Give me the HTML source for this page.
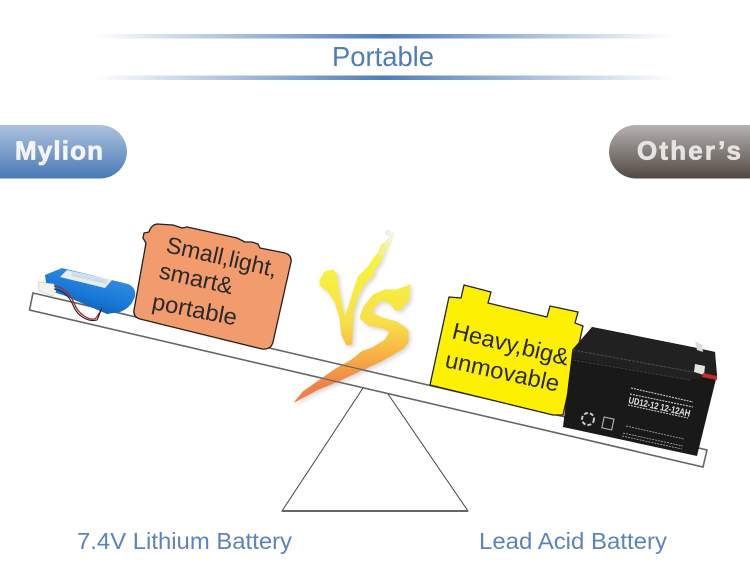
<!DOCTYPE html>
<html><head><meta charset="utf-8"><style>
html,body{margin:0;padding:0;background:#fff}
svg{display:block}
text{font-family:"Liberation Sans",sans-serif}
</style></head><body>
<svg width="750" height="561" viewBox="0 0 750 561" xmlns="http://www.w3.org/2000/svg">
<defs>
<linearGradient id="ln"><stop offset="0" stop-color="#4f7db8" stop-opacity="0"/><stop offset=".5" stop-color="#4f7db8"/><stop offset="1" stop-color="#4f7db8" stop-opacity="0"/></linearGradient>
<linearGradient id="pb" x1="0" y1="0" x2="0" y2="1"><stop offset="0" stop-color="#adc3de"/><stop offset="1" stop-color="#4a78b8"/></linearGradient>
<linearGradient id="pg" x1="0" y1="0" x2="0" y2="1"><stop offset="0" stop-color="#b5b2af"/><stop offset="1" stop-color="#524843"/></linearGradient>
<linearGradient id="vs" gradientUnits="userSpaceOnUse" x1="0" y1="270" x2="0" y2="385"><stop offset="0" stop-color="#f6f23e"/><stop offset=".45" stop-color="#f8e048"/><stop offset=".75" stop-color="#f7b044"/><stop offset="1" stop-color="#f08048"/></linearGradient>
<linearGradient id="vt" gradientUnits="userSpaceOnUse" x1="0" y1="232" x2="0" y2="268"><stop offset="0" stop-color="#f2f2ee"/><stop offset="1" stop-color="#f3f040"/></linearGradient>
<linearGradient id="bb" gradientUnits="userSpaceOnUse" x1="95" y1="275" x2="85" y2="312"><stop offset="0" stop-color="#2f8be0"/><stop offset=".55" stop-color="#1878d8"/><stop offset="1" stop-color="#1260b0"/></linearGradient>
<filter id="sh" x="-20%" y="-20%" width="140%" height="140%"><feDropShadow dx="2" dy="2" stdDeviation="2" flood-color="#888" flood-opacity=".35"/></filter>
</defs>

<rect x="95" y="34" width="578" height="4.500" fill="url(#ln)"/>
<rect x="95" y="75.500" width="578" height="4.500" fill="url(#ln)"/>
<text x="383" y="66" text-anchor="middle" font-size="27.500" fill="#4f7db8" textLength="102" lengthAdjust="spacingAndGlyphs">Portable</text>

<path d="M0 125H100A27 27 0 0 1 127 152A27 27 0 0 1 100 178.500H0Z" fill="url(#pb)"/>
<path d="M750 125H636A27 27 0 0 0 609 152A27 27 0 0 0 636 178.500H750Z" fill="url(#pg)"/>
<text x="15" y="159.500" font-size="26" font-weight="bold" fill="#f4f6fa" stroke="#f4f6fa" stroke-width=".7" textLength="88" lengthAdjust="spacing">Mylion</text>
<text x="637" y="159.500" font-size="26" font-weight="bold" fill="#e6e4e2" stroke="#e6e4e2" stroke-width=".7" textLength="104" lengthAdjust="spacing">Other’s</text>

<path d="M33 293L707 450L703 467L29.500 310Z" fill="#fff" stroke="#666" stroke-width="1.600"/>
<path d="M363 388L282 511H468L388 394" fill="none" stroke="#444" stroke-width="1"/>
<path d="M282 511H468" stroke="#666" stroke-width="2"/>

<path d="M143 238L144 233L149 232Q151 225 157 224L173 225L182 228L187 227L210 232L237 238L245 242L252 242L258 244L260 248L285 253Q292 255 291 262L273 342Q271 350 262 349L140 319Q133 317 134 310L146 243Z" fill="#f29b6c" stroke="#222" stroke-width="1.300" stroke-linejoin="round"/>
<g fill="#2a2a2a" font-size="23.200">
<text transform="translate(165 252) rotate(12.800)" textLength="113" lengthAdjust="spacingAndGlyphs">Small,light,</text>
<text transform="translate(158 278) rotate(12.500)" textLength="75" lengthAdjust="spacingAndGlyphs">smart&amp;</text>
<text transform="translate(151 309) rotate(11)" textLength="86" lengthAdjust="spacingAndGlyphs">portable</text>
</g>

<path d="M45 275L62 268L128 284C133 286 136 290 135 296C133 303 128 309 120 312L107 314L63 295L47 290Z" fill="url(#bb)"/>
<path d="M67 270L112 280L105 288L60 277Z" fill="#e6edf4"/>
<path d="M73 272L108 280L105 284L71 276Z" fill="#cfdcec"/>
<path d="M38 282L54 284L56 292L52 296L39 291Z" fill="#f2f2ee" stroke="#bbb" stroke-width=".5"/>
<path d="M54 286C64 287 70 294 74 303C79 316 90 320 95 319C98 316 100 312 102 308" fill="none" stroke="#b0242a" stroke-width="1.300"/>
<path d="M54 289C63 290 69 296 73 305C78 318 90 322 97 320C99 316 100 312 102 308" fill="none" stroke="#222" stroke-width="1.100"/>

<path d="M464 285L491 292L488 303L547 317L550 306L578 312L575 323L583 326L563 415L553 415L430 385L449 297L461 298Z" fill="#fdf000" stroke="#222" stroke-width="1.300" stroke-linejoin="round"/>
<g fill="#2a2a2a" font-size="23.300">
<text transform="translate(451 338) rotate(13.400)" textLength="119" lengthAdjust="spacingAndGlyphs">Heavy,big&amp;</text>
<text transform="translate(444 367) rotate(12.300)" textLength="116" lengthAdjust="spacingAndGlyphs">unmovable</text>
</g>

<path d="M592 327L697 348L715 352L717 375L697 456L563 427L572 352Z" fill="#1a191a"/>
<path d="M592 327L697 348L715 352L716 374L690 380L573 358L572 350Z" fill="#222122"/>
<path d="M573 350L693 372" stroke="#4a4a4e" stroke-width="1" stroke-dasharray="3 1"/>
<path d="M573 360L690 380" stroke="#3c3c3e" stroke-width="1" stroke-dasharray="3 1"/>
<path d="M695 341L702 345L703 352L697 350Z" fill="#ddd"/>
<path d="M695 364L705 366L704 375L694 372Z" fill="#e4e4e0"/>
<path d="M703 373L717 376L717 380L702 377Z" fill="#c82c2c"/>
<path d="M631 388L693 402M630 394L693 407M628 405L688 418" stroke="#d8d8d8" stroke-width="1" stroke-dasharray="2 1"/>
<text transform="translate(628 403) rotate(12.500)" font-size="9.500" font-weight="bold" fill="#e4e4e4" textLength="63" lengthAdjust="spacingAndGlyphs">UD12-12  12-12AH</text>
<path d="M626 426L684 439M623 433L683 446M622 436L682 449" stroke="#aaa" stroke-width=".8" stroke-dasharray="2 1"/>
<circle cx="588" cy="419" r="6" fill="none" stroke="#c8c8c8" stroke-width="2" stroke-dasharray="4 2"/>
<rect x="603" y="418" width="10" height="11" fill="none" stroke="#aaa" stroke-width="1.200" transform="rotate(12 608 423)"/>

<g filter="url(#sh)" stroke="url(#vs)" stroke-width="1" stroke-linejoin="round">
<path d="M320 280L325 271.700L333.300 270L336.700 275L338.300 288.300L341.700 305L345 318.300L351.700 296.700L358.300 276.700L368.300 266.700L375 256.700L378.300 253.300L381.700 245L386.700 241.700L380 262L375 268L373.300 275L365 283.300L358.300 295L353.300 311.700L351.700 344L347 345L341.700 335L340 318.300L335 301.700L328.300 291.700L320 285Z" fill="url(#vs)"/>
<path d="M410 285L397 290L385 290L373 295L363 308L360 318L368 325L383 328L390 332L385 340L372 348L361.700 351.700L351.700 360L336.700 368.300L320 380L303.300 391.700L295 401.700L316.700 390L336.700 381.700L361.700 370L380 361.700L403.300 348.300L408 342L408 330L397 322L382 318L373 314L373 308L382 300L390 303L395 310L400 310L409 300Z" fill="url(#vs)"/>
</g>
<path d="M378 253L384 243L388 238L392 232L395 233L391 244L386 252L381 261Z" fill="url(#vt)" opacity=".8"/>
<circle cx="388" cy="233" r="3" fill="#e8e8e4" opacity=".7"/>
<path d="M335 363.300L372 372M310 375.400L338 382" stroke="#666" stroke-width="1.200"/>

<text x="77" y="549" font-size="23.500" fill="#5b84ba" textLength="215" lengthAdjust="spacingAndGlyphs">7.4V Lithium Battery</text>
<text x="479" y="549" font-size="23.500" fill="#5b84ba" textLength="188" lengthAdjust="spacingAndGlyphs">Lead Acid Battery</text>
</svg>
</body></html>
